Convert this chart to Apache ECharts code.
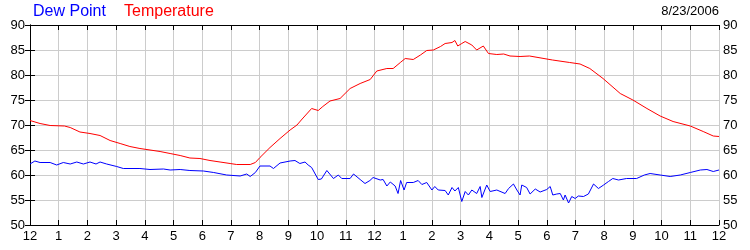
<!DOCTYPE html>
<html><head><meta charset="utf-8">
<script src="https://cdn.jsdelivr.net/npm/echarts@6/dist/echarts.min.js"></script>
<style>html,body{margin:0;padding:0;background:#fff}#c{width:750px;height:250px}</style>
</head><body><div id="c"></div>
<script>
var tempHours = [0,0.35,0.7,1.2,1.4,1.74,2.09,2.44,2.79,3.14,3.48,3.83,4.18,4.53,4.88,5.23,5.57,5.92,6.27,6.62,6.97,7.2,7.67,7.85,8.01,8.36,8.71,9.06,9.3,9.48,9.81,10.04,10.2,10.45,10.8,11.15,11.5,11.85,12.08,12.43,12.65,12.9,13.07,13.35,13.6,13.82,14.05,14.3,14.46,14.7,14.8,14.9,15.04,15.16,15.39,15.56,15.79,15.97,16.26,16.5,16.72,17.07,17.4,17.8,18.2,18.8,19.16,19.5,19.96,20.56,21.0,21.49,21.95,22.4,23.0,23.45,23.8,24];
var temperature = [70.9,70.3,69.9,69.8,69.5,68.6,68.3,67.9,66.9,66.3,65.7,65.3,65.0,64.7,64.3,63.9,63.4,63.3,62.9,62.6,62.3,62.1,62.1,62.5,63.5,65.5,67.3,69.0,70.0,71.2,73.3,72.9,73.7,74.8,75.3,77.3,78.3,79.1,80.8,81.3,81.3,82.5,83.3,83.1,84.0,84.9,85.0,85.7,86.3,86.5,86.9,85.8,86.3,86.7,86.0,85.0,85.8,84.3,84.1,84.2,83.8,83.7,83.8,83.4,83.0,82.5,82.2,81.3,79.3,76.3,75.0,73.3,71.8,70.7,69.8,68.7,67.8,67.7];
var dewHours = [0,0.17,0.35,0.7,0.93,1.16,1.4,1.63,1.86,2.09,2.3,2.44,2.67,3.02,3.25,3.83,4.18,4.65,4.88,5.23,5.57,6.04,6.4,6.85,7.32,7.55,7.67,7.85,8.01,8.36,8.48,8.71,9.06,9.23,9.4,9.58,9.69,9.81,10.04,10.15,10.34,10.57,10.74,10.86,11.15,11.27,11.5,11.67,11.84,11.95,12.2,12.3,12.43,12.55,12.72,12.82,12.91,13.03,13.12,13.35,13.52,13.65,13.82,14.0,14.1,14.22,14.46,14.57,14.7,14.8,14.92,15.04,15.16,15.27,15.39,15.56,15.68,15.74,15.91,16.03,16.26,16.55,16.67,16.84,16.96,17.07,17.13,17.3,17.42,17.6,17.77,18.0,18.12,18.21,18.35,18.47,18.58,18.64,18.76,18.87,18.99,19.1,19.28,19.45,19.63,19.8,19.98,20.15,20.3,20.5,20.78,21.13,21.4,21.6,21.95,22.3,22.65,23.0,23.35,23.58,23.8,24];
var dewPoint = [62.2,62.8,62.5,62.5,62.0,62.5,62.2,62.6,62.2,62.6,62.2,62.6,62.2,61.7,61.3,61.3,61.1,61.2,61.0,61.1,60.9,60.8,60.5,60.0,59.8,60.2,59.7,60.5,61.8,61.8,61.3,62.4,62.8,62.9,62.3,62.6,62.0,61.5,59.1,59.2,60.9,59.3,60.0,59.3,59.3,60.2,59.1,58.3,58.9,59.5,59.0,59.1,57.8,58.6,57.8,56.3,58.9,57.0,58.5,58.5,58.9,58.1,58.5,57.0,57.7,57.0,56.9,56.0,57.5,56.8,57.5,54.7,56.7,56.0,57.0,56.3,57.7,55.5,58.0,56.7,57.0,56.3,57.3,58.2,57.0,56.0,58.0,57.5,56.2,57.2,56.6,57.1,57.7,56.0,56.2,56.3,55.0,56.0,54.4,55.7,55.3,55.8,55.7,56.2,58.2,57.3,58.0,58.7,59.3,59.0,59.3,59.3,60.0,60.3,60.0,59.7,60.0,60.5,61.0,61.1,60.7,61.0];
var hourLabels = ['12','1','2','3','4','5','6','7','8','9','10','11','12','1','2','3','4','5','6','7','8','9','10','11','12'];
var seriesNames = ['Dew Point','Temperature'];
var dateText = '8/23/2006';

function pairs(xs, ys){ return xs.map(function(x,i){return [x, ys[i]];}); }
var FONT = '"Liberation Sans", Arial, sans-serif';
var lbl = {color:'#000', fontSize:13, fontFamily:FONT};
var chart = echarts.init(document.getElementById('c'), null, {renderer:'canvas'});
chart.setOption({
  animation:false,
  backgroundColor:'#fff',
  grid:{left:30, right:31, top:25, bottom:25, containLabel:false},
  xAxis:[{
    type:'value', min:0, max:24, interval:1, position:'bottom',
    axisLine:{lineStyle:{color:'#000', width:1}},
    axisTick:{inside:true, length:5, lineStyle:{color:'#000'}},
    axisLabel:Object.assign({margin:5, formatter:function(v){return hourLabels[Math.round(v)];}}, lbl),
    splitLine:{show:true, lineStyle:{color:'#cccccc', width:1}}
  },{
    type:'value', min:0, max:24, interval:1, position:'top',
    axisLine:{show:true, lineStyle:{color:'#000'}},
    axisTick:{show:true, inside:true, length:5, lineStyle:{color:'#000'}},
    axisLabel:{show:false}, splitLine:{show:false}
  }],
  yAxis:[{
    type:'value', min:50, max:90, interval:5, position:'left',
    axisLine:{show:true, lineStyle:{color:'#000'}},
    axisTick:{show:true, inside:true, length:5, lineStyle:{color:'#000'}},
    axisLabel:Object.assign({margin:5}, lbl),
    splitLine:{show:true, lineStyle:{color:'#cccccc', width:1}}
  },{
    type:'value', min:50, max:90, interval:5, position:'right',
    axisLine:{show:true, lineStyle:{color:'#000'}},
    axisTick:{show:true, inside:true, length:5, lineStyle:{color:'#000'}},
    axisLabel:Object.assign({margin:4}, lbl),
    splitLine:{show:false}
  }],
  series:[{
    name:seriesNames[0], type:'line', xAxisIndex:0, yAxisIndex:0, showSymbol:false, symbol:'none',
    lineStyle:{color:'#0000ff', width:1}, data:pairs(dewHours, dewPoint), z:3
  },{
    name:seriesNames[1], type:'line', xAxisIndex:0, yAxisIndex:0, showSymbol:false, symbol:'none',
    lineStyle:{color:'#ff0000', width:1}, data:pairs(tempHours, temperature), z:3
  }],
  graphic:[
    {type:'text', left:33, top:4, style:{text:seriesNames[0], fill:'#0000ff', font:'16px '+FONT}},
    {type:'text', left:124, top:4, style:{text:seriesNames[1], fill:'#ff0000', font:'16px '+FONT}},
    {type:'text', right:31, top:5, style:{text:dateText, fill:'#000', font:'13px '+FONT}}
  ]
});
</script></body></html>
